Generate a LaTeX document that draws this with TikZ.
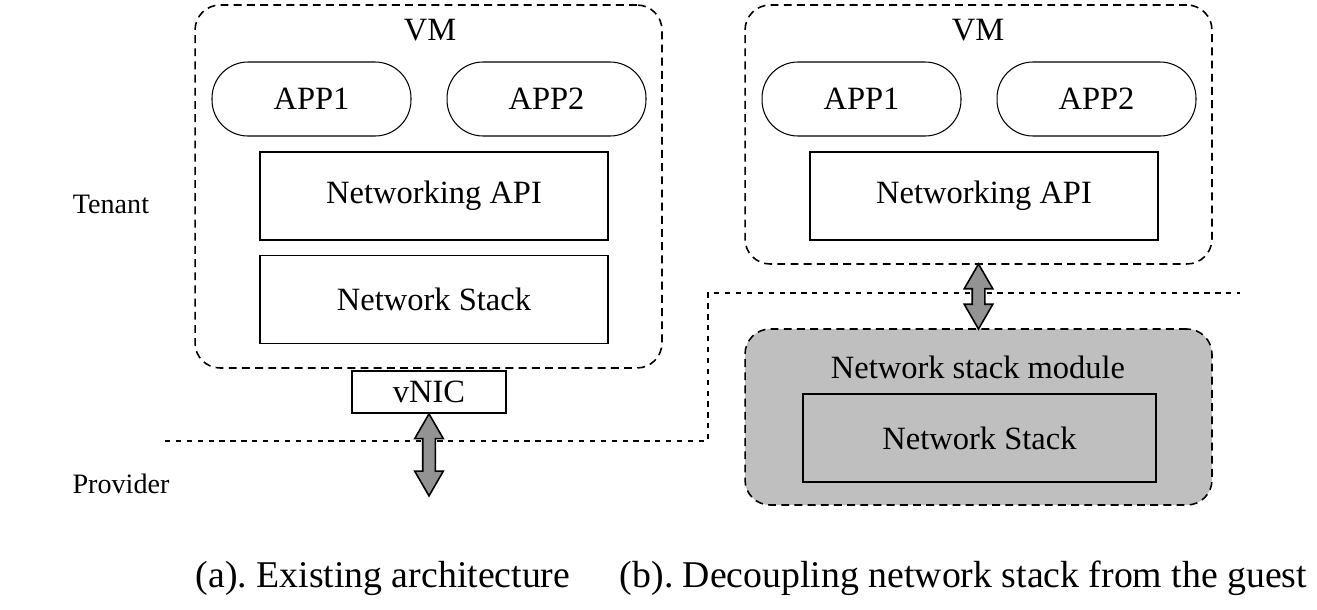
\documentclass[tikz,border=0pt]{standalone}
\usepackage{fontspec}
\setmainfont{Liberation Serif}
\usepackage{tikz}
\usetikzlibrary{shapes,arrows.meta,positioning,calc}

\begin{document}
\begin{tikzpicture}[x=0.02cm, y=-0.02cm,
  vmbox/.style={draw, dash pattern=on 4.5pt off 3pt, line width=0.9pt, rounded corners=0.5cm, minimum width=9.34cm},
  app/.style={draw, line width=0.6pt, rounded corners=0.72cm, minimum width=3.98cm, minimum height=1.48cm, font=\fontsize{18.5}{22}\selectfont},
  layer/.style={draw, line width=1pt, minimum width=6.96cm, minimum height=1.76cm, font=\fontsize{18.5}{22}\selectfont},
  nic/.style={draw, line width=1pt, minimum width=3.08cm, minimum height=0.84cm, font=\fontsize{18.5}{22}\selectfont},
  bigarrow/.style={double arrow, draw, line width=0.9pt, fill=gray!85, rotate=90, inner xsep=0pt, inner ysep=0.11cm, double arrow head extend=0.16cm, double arrow tip angle=60},
  boundary/.style={line width=1.6pt, dash pattern=on 3pt off 3.2pt},
  lbl/.style={font=\fontsize{18.5}{22}\selectfont},
  side/.style={font=\fontsize{16}{19}\selectfont},
  caption/.style={font=\fontsize{21.5}{25}\selectfont},
]
\useasboundingbox (0,0) rectangle (1317,609);

% tenant / provider boundary
\draw[boundary] (165,441) -| (708,293) -- (1240,293);
\node[side] (tenant) at (111,204) {Tenant};
\node[side] (provider) at (121,484) {Provider};

% (a) existing architecture
\node[vmbox, minimum height=7.26cm] (vmA) at (428.5,186.5) {};
\node[lbl] (vmAlabel) at (430,30) {VM};
\node[app] (appA1) at (311.5,99) {APP1};
\node[app] (appA2) at (546.5,99) {APP2};
\node[layer] (apiA) at (434,196) {Networking API};
\node[layer] (stackA) at (434,299.5) {Network Stack};
\node[nic] (vnic) at (429,392) {vNIC};
\node[bigarrow, minimum height=1.64cm] (arrowA) at ([yshift=-0.82cm]vnic.south) {};

% (b) decoupled network stack
\node[vmbox, minimum height=5.18cm] (vmB) at (978.5,134.5) {};
\node[lbl] (vmBlabel) at (978,30) {VM};
\node[app] (appB1) at (861.5,99) {APP1};
\node[app] (appB2) at (1096.5,99) {APP2};
\node[layer] (apiB) at (984,196) {Networking API};
\node[vmbox, fill=gray!50, minimum height=3.52cm] (module) at (978.5,417) {};
\node[lbl] (modulelabel) at (978,367) {Network stack module};
\node[layer, fill=gray!50, minimum width=7.06cm] (stackB) at (979.5,438) {Network Stack};
\node[bigarrow, minimum height=1.3cm] (arrowB) at ($(vmB.south)!0.5!(module.north)$) {};

% captions
\node[caption] (capA) at (383,578) {(a).\ Existing architecture};
\node[caption] (capB) at (963.5,578) {(b).\ Decoupling network stack from the guest};
\end{tikzpicture}
\end{document}
